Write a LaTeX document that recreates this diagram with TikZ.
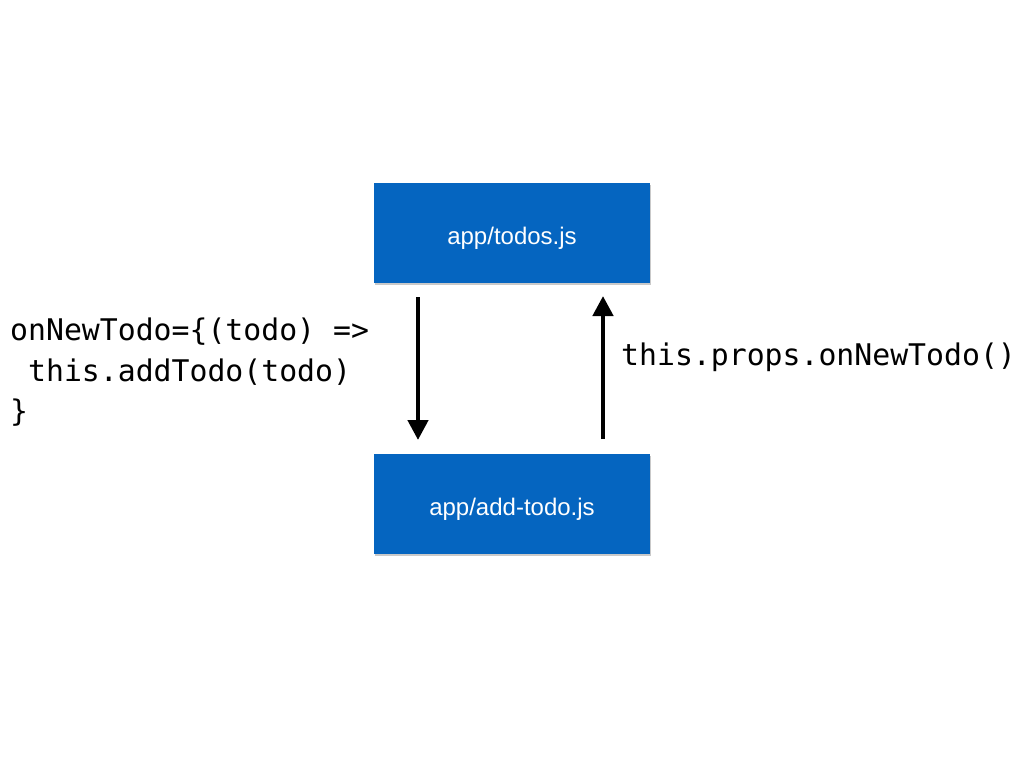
\documentclass[tikz,border=0pt]{standalone}
\usepackage{fontspec}
\setmainfont{Liberation Sans}
\newfontfamily\codefont{DejaVu Sans Mono}
\usetikzlibrary{arrows.meta,shadows}
\definecolor{boxblue}{HTML}{0565C0}
\newcommand\lowered[1]{\raisebox{-5pt}[\height][\depth]{#1}}
\begin{document}
\begin{tikzpicture}[x=1pt,y=-1pt,
  filebox/.style={fill=boxblue, draw=none, minimum width=276pt, minimum height=100pt,
    inner sep=0pt, text=white, font=\fontsize{24}{28}\selectfont,
    drop shadow={shadow xshift=1pt, shadow yshift=-1.5pt, opacity=0.35, fill=black!60}},
  flow/.style={line width=4.5pt, -{Triangle[length=20pt,width=20pt]}},
  code/.style={font=\codefont\fontsize{29.8}{40}\selectfont, inner sep=0pt, anchor=base west}]
\useasboundingbox (0,0) rectangle (1024,768);
\fill[white] (0,0) rectangle (1024,768);
\node[filebox] (todos) at (512,233) {\lowered{app/todos.js}};
\node[filebox] (add) at (512,504) {\lowered{app/add-todo.js}};
\coordinate (d1) at (418,297);
\coordinate (d2) at (418,440);
\coordinate (u1) at (603,439);
\coordinate (u2) at (603,296);
\draw[flow] (d1) -- (d2);
\draw[flow] (u1) -- (u2);
\node[code] (l1) at (10,340) {onNewTodo=\{(todo) =>};
\node[code] (l2) at (10,381) {\ this.addTodo(todo)};
\node[code] (l3) at (10,421) {\}};
\node[code] (r1) at (621,365) {this.props.onNewTodo()};
\end{tikzpicture}
\end{document}
